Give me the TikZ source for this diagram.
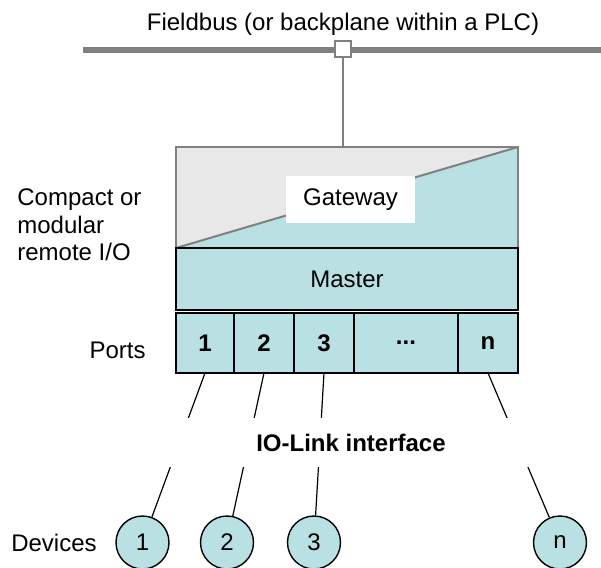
\documentclass[tikz,border=0pt]{standalone}
\usepackage{fontspec}
\setmainfont{Liberation Sans}
\usetikzlibrary{positioning}
\definecolor{ioteal}{RGB}{185,224,226}
\definecolor{gwgray}{RGB}{232,232,232}
\definecolor{busgray}{RGB}{128,128,128}

\begin{document}
\begin{tikzpicture}[x=0.5pt, y=-0.5pt,
    every node/.style={font=\fontsize{12}{13.75}\selectfont},
    cell/.style={draw=black, fill=ioteal, line width=0.7pt, minimum height=30pt, inner sep=0pt, outer sep=0pt, font=\fontsize{12}{13.75}\selectfont\bfseries},
    device/.style={circle, draw=black, fill=ioteal, line width=0.7pt, minimum size=26.5pt, inner sep=0pt},
    link/.style={draw=black, line width=0.6pt}
]
    \useasboundingbox (0,0) rectangle (601,568);

    % fieldbus
    \coordinate (busL) at (83,50);
    \coordinate (busR) at (601,50);
    \draw[busgray, line width=2.75pt] (busL) -- (busR);
    \node (buslabel) at (343,24) {Fieldbus (or backplane within a PLC)};
    \node[draw=busgray, fill=white, line width=0.6pt, minimum size=8pt, inner sep=0pt] (tap) at (343,49) {};

    % gateway
    \node[minimum width=171pt, minimum height=50.5pt, inner sep=0pt, outer sep=0pt] (gw) at (347,197.5) {};
    \fill[gwgray] (gw.north west) -- (gw.north east) -- (gw.south west) -- cycle;
    \fill[ioteal] (gw.north east) -- (gw.south east) -- (gw.south west) -- cycle;
    \draw[busgray, line width=1pt] (gw.south west) -- (gw.north east);
    \draw[busgray, line width=0.8pt] (gw.north west) rectangle (gw.south east);
    \draw[busgray, line width=0.6pt] (tap.south) -- (tap.south |- gw.north);
    \node[fill=white, minimum width=64.5pt, minimum height=23.5pt, inner sep=0pt] (gwlabel) at (350.5,199.5) {Gateway};

    % master and ports
    \node[draw=black, fill=ioteal, line width=0.7pt, minimum width=171pt, minimum height=31pt, inner sep=0pt, outer sep=0pt] (master) at (347,279) {Master};
    \node[cell, anchor=north west, minimum width=29pt] (p1) at ([yshift=-1.5pt]master.south west) {1};
    \node[cell, right=0pt of p1, minimum width=30pt] (p2) {2};
    \node[cell, right=0pt of p2, minimum width=30pt] (p3) {3};
    \node[cell, right=0pt of p3, minimum width=52pt] (pdots) {...};
    \node[cell, right=0pt of pdots, minimum width=30pt] (pn) {n};

    % left labels
    \node[inner sep=0pt, anchor=west, align=left] (remoteio) at (17,225) {Compact or\\modular\\remote I/O};
    \node[inner sep=0pt, anchor=east] (ports) at (146,350) {Ports};
    \node[inner sep=0pt] (devices) at (54,543) {Devices};

    % devices
    \node[device] (d1) at (142.5,542.5) {1};
    \node[device] (d2) at (227,542.5) {2};
    \node[device] (d3) at (314,542.5) {3};
    \node[device] (dn) at (560,542.5) {n};

    \draw[link] (p1.south) -- (d1);
    \draw[link] (p2.south) -- (d2);
    \draw[link] (p3.south) -- (d3);
    \draw[link] (pn.south) -- (dn);

    \node[fill=white, minimum width=215pt, minimum height=24.5pt, inner sep=0pt, font=\fontsize{12}{13.75}\selectfont\bfseries] (iolink) at (351,442.5) {IO-Link interface};
\end{tikzpicture}
\end{document}
